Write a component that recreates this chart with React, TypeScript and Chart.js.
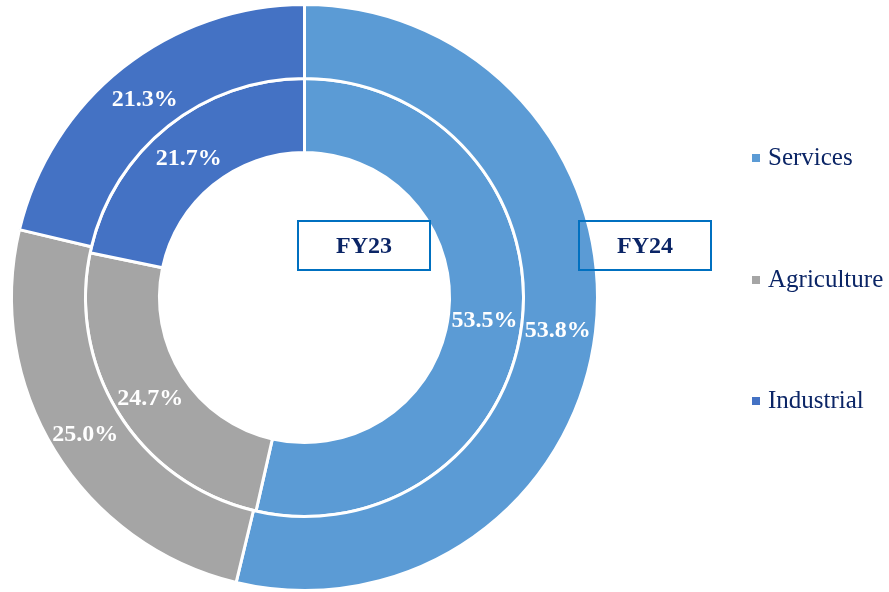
import React, { useEffect, useRef } from 'react';
import { Chart, registerables } from 'chart.js';

Chart.register(...registerables);

const categories = ['Services', 'Agriculture', 'Industrial'];
const fy24Values = [53.8, 25.0, 21.3];
const fy23Values = [53.5, 24.7, 21.7];
const ringNames = ['FY24', 'FY23'];
const colors = ['#5B9BD5', '#A5A5A5', '#4472C4'];

const SERIF = '"Liberation Serif", "DejaVu Serif", serif';
const NAVY = '#0B2566';
const BOX_BLUE = '#0070C0';

const overlayPlugin = {
  id: 'overlay',
  afterDatasetsDraw(chart: any) {
    const ctx = chart.ctx as CanvasRenderingContext2D;
    ctx.save();
    // data labels at arc centroids
    chart.data.datasets.forEach((ds: any, di: number) => {
      const meta = chart.getDatasetMeta(di);
      meta.data.forEach((arc: any, i: number) => {
        const p = arc.tooltipPosition();
        ctx.font = `bold 24px ${SERIF}`;
        ctx.fillStyle = '#FFFFFF';
        ctx.textAlign = 'center';
        ctx.textBaseline = 'middle';
        ctx.fillText(ds.data[i].toFixed(1) + '%', p.x - 1, p.y + 3);
      });
    });
    // ring name boxes
    const boxes = [
      { name: ringNames[1], x: 298, y: 221, w: 132, h: 49 },
      { name: ringNames[0], x: 579, y: 221, w: 132, h: 49 },
    ];
    boxes.forEach((b) => {
      ctx.strokeStyle = BOX_BLUE;
      ctx.lineWidth = 2;
      ctx.strokeRect(b.x, b.y, b.w, b.h);
      ctx.font = `bold 24px ${SERIF}`;
      ctx.fillStyle = NAVY;
      ctx.textAlign = 'center';
      ctx.textBaseline = 'middle';
      ctx.fillText(b.name, b.x + b.w / 2, b.y + b.h / 2 + 1);
    });
    // legend
    const legendY = [158, 280, 401];
    categories.forEach((c, i) => {
      ctx.fillStyle = colors[i];
      ctx.fillRect(752, legendY[i] - 4, 8, 8);
      ctx.font = `25px ${SERIF}`;
      ctx.fillStyle = NAVY;
      ctx.textAlign = 'left';
      ctx.textBaseline = 'middle';
      ctx.fillText(c, 768, legendY[i]);
    });
    ctx.restore();
  },
};

export default function App() {
  const canvasRef = useRef<HTMLCanvasElement | null>(null);

  useEffect(() => {
    if (!canvasRef.current) return;
    const chart = new Chart(canvasRef.current, {
      type: 'doughnut',
      data: {
        labels: categories,
        datasets: [
          {
            label: ringNames[0],
            data: fy24Values,
            backgroundColor: colors,
            borderColor: '#FFFFFF',
            borderWidth: 3,
          },
          {
            label: ringNames[1],
            data: fy23Values,
            backgroundColor: colors,
            borderColor: '#FFFFFF',
            borderWidth: 3,
          },
        ],
      },
      options: {
        responsive: true,
        maintainAspectRatio: false,
        animation: false,
        cutout: '49.5%',
        rotation: 0,
        layout: { padding: { left: 10, top: 3, right: 290, bottom: 0 } },
        plugins: {
          legend: { display: false },
          tooltip: { enabled: false },
        },
      },
      plugins: [overlayPlugin],
    });
    return () => chart.destroy();
  }, []);

  return (
    <div style={{ position: 'absolute', left: 0, top: 0, width: 889, height: 592, background: '#FFFFFF' }}>
      <canvas ref={canvasRef} />
    </div>
  );
}
